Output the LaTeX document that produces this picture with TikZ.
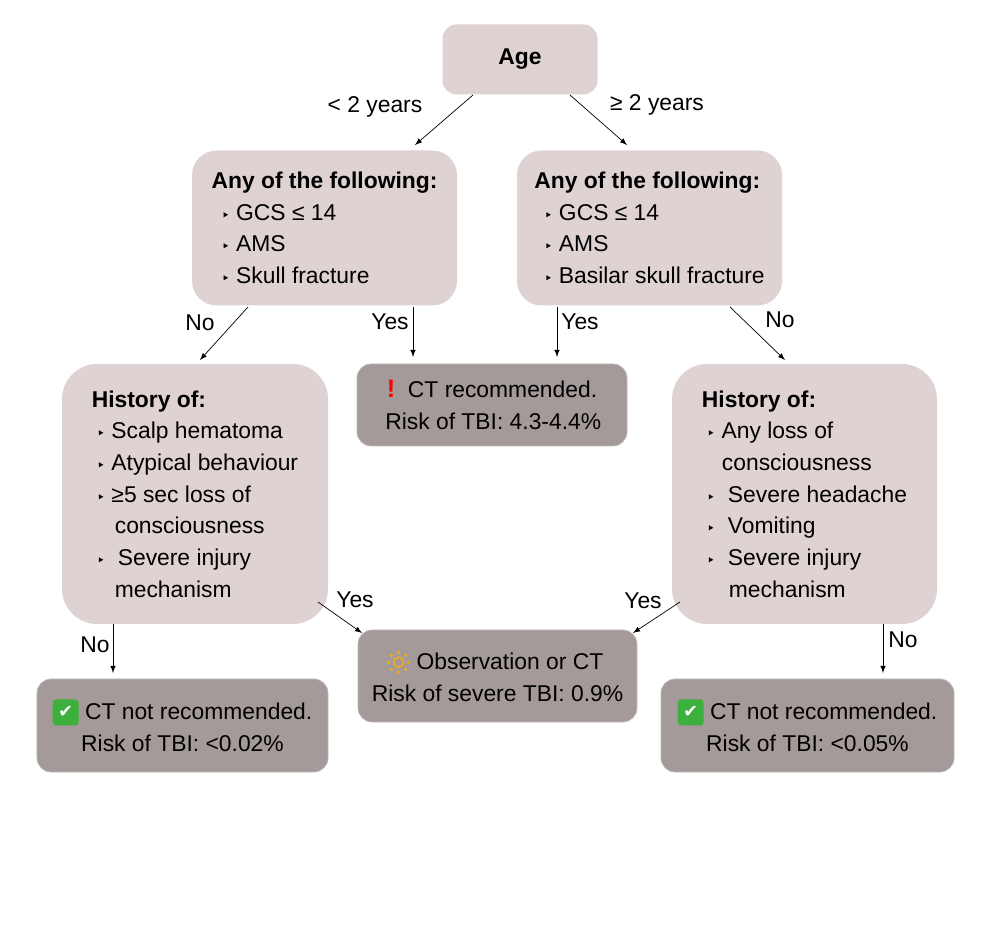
\documentclass[tikz,border=0pt]{standalone}
\usepackage{fontspec}
\setmainfont{Liberation Sans}
\newfontfamily\sym{DejaVu Sans}
\usetikzlibrary{positioning}
\definecolor{lightbox}{RGB}{222,210,210}
\definecolor{darkbox}{RGB}{165,154,154}
\definecolor{okgreen}{RGB}{60,175,60}
\definecolor{sunorange}{RGB}{245,170,30}
\newcommand{\tri}{{\sym\footnotesize ‣}\ }
\newcommand{\okmark}{\tikz[baseline=-0.6ex]{\node[fill=okgreen, rounded corners=2pt, inner sep=0pt, minimum size=0.52cm, text=white, font=\sym\bfseries\normalsize] {✔};}}
\newcommand{\sunmark}{\tikz[baseline=-0.6ex]{\draw[sunorange, thick] (0,0) circle (0.1);
  \foreach \a in {0,45,...,315} \fill[sunorange] (\a:0.2) circle (0.035);}}
\tikzset{
  q/.style={rounded corners=14pt, fill=lightbox, font=\fontsize{13}{18}\selectfont, align=left, inner sep=0pt},
  res/.style={rounded corners=8pt, fill=darkbox, draw=darkbox!70!white, font=\fontsize{13}{18}\selectfont, align=center, inner sep=0pt},
  arr/.style={-latex, thin},
  lbl/.style={font=\fontsize{13}{16}\selectfont}
}
\begin{document}
\begin{tikzpicture}
\useasboundingbox (0,0) rectangle (20,18.64);
% questions
\node[q, minimum width=3.1cm, minimum height=1.4cm, align=center, rounded corners=8pt] (age) at (10.4,17.45) {\textbf{Age}};
\node[q, minimum width=5.3cm, minimum height=3.1cm] (anyl) at (6.49,14.08) {\textbf{Any of the following:}\\\hspace{2mm}\tri GCS ≤ 14\\\hspace{2mm}\tri AMS\\\hspace{2mm}\tri Skull fracture};
\node[q, minimum width=5.3cm, minimum height=3.1cm] (anyr) at (12.99,14.08) {\textbf{Any of the following:}\\\hspace{2mm}\tri GCS ≤ 14\\\hspace{2mm}\tri AMS\\\hspace{2mm}\tri Basilar skull fracture};
\node[q, minimum width=5.32cm, minimum height=5.2cm, rounded corners=20pt] (histl) at (3.9,8.76) {\textbf{History of:}\\\hspace{1mm}\tri Scalp hematoma\\\hspace{1mm}\tri Atypical behaviour\\\hspace{1mm}\tri ≥5 sec loss of\\\hspace{4.6mm}consciousness\\\hspace{1mm}\tri\ Severe injury\\\hspace{4.6mm}mechanism};
\node[q, minimum width=5.3cm, minimum height=5.2cm, rounded corners=20pt] (histr) at (16.09,8.76) {\textbf{History of:}\\\hspace{1mm}\tri Any loss of\\\hspace{4mm}consciousness\\\hspace{1mm}\tri\ Severe headache\\\hspace{1mm}\tri\ Vomiting\\\hspace{1mm}\tri\ Severe injury\\\hspace{5.4mm}mechanism};
% outcomes
\node[res, minimum width=5.4cm, minimum height=1.64cm] (ctrec) at (9.84,10.54) {{\color{red}\bfseries\Large !}\ \ CT recommended.\\\hspace{0.5mm}Risk of TBI: 4.3-4.4\%};
\node[res, minimum width=5.58cm, minimum height=1.84cm] (obs) at (9.95,5.12) {\hspace{-1mm}\sunmark\ Observation or CT\\Risk of severe TBI: 0.9\%};
\node[res, minimum width=5.82cm, minimum height=1.86cm] (notl) at (3.65,4.13) {\okmark\ CT not recommended.\\Risk of TBI: <0.02\%};
\node[res, minimum width=5.86cm, minimum height=1.86cm] (notr) at (16.15,4.13) {\okmark\ CT not recommended.\\Risk of TBI: <0.05\%};
% connector ends
\coordinate (a1) at (9.46,16.74); \coordinate (a2) at (8.3,15.74);
\coordinate (a3) at (11.4,16.74); \coordinate (a4) at (12.54,15.74);
\coordinate (b1) at (4.96,12.5); \coordinate (b2) at (4.0,11.44);
\coordinate (b3) at (8.26,12.5); \coordinate (b4) at (8.26,11.5);
\coordinate (c1) at (11.14,12.5); \coordinate (c2) at (11.14,11.5);
\coordinate (c3) at (14.6,12.5); \coordinate (c4) at (15.7,11.44);
\coordinate (d1) at (6.36,6.6); \coordinate (d2) at (7.24,5.98);
\coordinate (d3) at (2.26,6.16); \coordinate (d4) at (2.26,5.18);
\coordinate (e1) at (13.6,6.6); \coordinate (e2) at (12.66,5.98);
\coordinate (e3) at (17.66,6.16); \coordinate (e4) at (17.66,5.18);
\draw[arr] (a1) -- (a2);
\draw[arr] (a3) -- (a4);
\draw[arr] (b1) -- (b2);
\draw[arr] (b3) -- (b4);
\draw[arr] (c1) -- (c2);
\draw[arr] (c3) -- (c4);
\draw[arr] (d1) -- (d2);
\draw[arr] (d3) -- (d4);
\draw[arr] (e1) -- (e2);
\draw[arr] (e3) -- (e4);
% labels
\node[lbl] (l1) at (7.5,16.5) {< 2 years};
\node[lbl] (l2) at (13.14,16.54) {≥ 2 years};
\node[lbl] (l3) at (4.0,12.18) {No};
\node[lbl] (l4) at (7.8,12.2) {Yes};
\node[lbl] (l5) at (11.6,12.2) {Yes};
\node[lbl] (l6) at (15.6,12.24) {No};
\node[lbl] (l7) at (7.1,6.64) {Yes};
\node[lbl] (l8) at (1.9,5.74) {No};
\node[lbl] (l9) at (12.86,6.62) {Yes};
\node[lbl] (l10) at (18.06,5.84) {No};
\end{tikzpicture}
\end{document}
